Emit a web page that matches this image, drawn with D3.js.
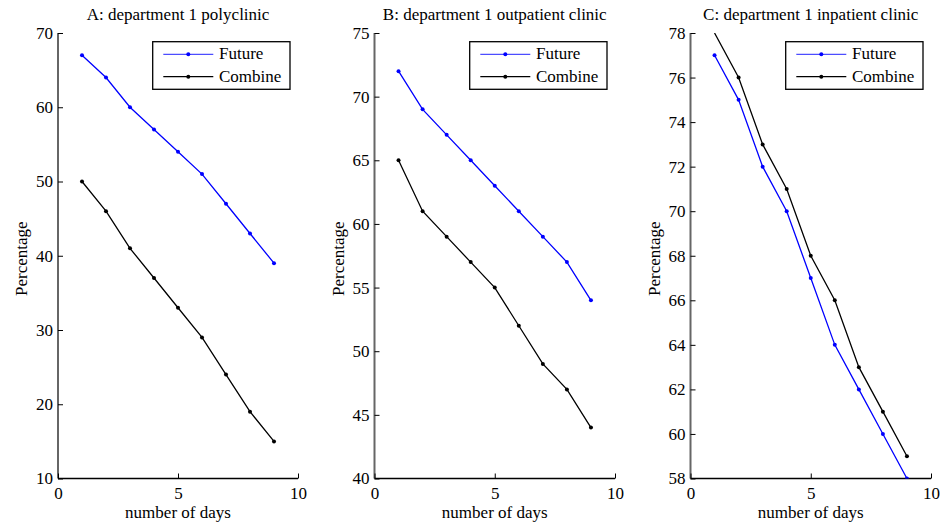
<!DOCTYPE html>
<html><head><meta charset="utf-8">
<script src="https://cdn.jsdelivr.net/npm/d3@7"></script>
<style>body{margin:0;background:#fff}svg{display:block}</style>
</head><body>
<script>
const days = [1,2,3,4,5,6,7,8,9];
const titles = ["A: department 1 polyclinic","B: department 1 outpatient clinic","C: department 1 inpatient clinic"];
const futureA = [67,64,60,57,54,51,47,43,39];
const combineA = [50,46,41,37,33,29,24,19,15];
const futureB = [72,69,67,65,63,61,59,57,54];
const combineB = [65,61,59,57,55,52,49,47,44];
const futureC = [77,75,72,70,67,64,62,60,58];
const combineC = [78,76,73,71,68,66,63,61,59];
const yDomains = [[10,70],[40,75],[58,78]];
const yTicks = [[10,20,30,40,50,60,70],[40,45,50,55,60,65,70,75],[58,60,62,64,66,68,70,72,74,76,78]];
const xTicks = [0,5,10];
const seriesNames = ["Future","Combine"];
const colors = ["#0000ff","#000000"];

(function(){
const W=944,H=529;
const FONT="Liberation Serif";
const FS="17px";
const svg=d3.select("body").append("svg").attr("width",W).attr("height",H);
const panels=[
 {left:58,right:298,f:futureA,c:combineA},
 {left:374.5,right:615,f:futureB,c:combineB},
 {left:690.5,right:931,f:futureC,c:combineC}
];
const pTop=33,pBottom=478.5;
function txt(sel){return sel.style("font-family",FONT).style("font-size",FS).attr("fill","#000");}
panels.forEach((p,i)=>{
  const x=d3.scaleLinear().domain([0,10]).range([p.left,p.right]);
  const y=d3.scaleLinear().domain(yDomains[i]).range([pBottom,pTop]);
  const g=svg.append("g");
  const cid="clip"+i;
  svg.append("clipPath").attr("id",cid).append("rect").attr("x",p.left).attr("y",pTop).attr("width",p.right-p.left).attr("height",pBottom-pTop);
  const ya=g.append("g").attr("transform",`translate(${p.left},0)`).call(d3.axisLeft(y).tickValues(yTicks[i]).tickSize(-5).tickPadding(5).tickFormat(d3.format("d")));
  const xa=g.append("g").attr("transform",`translate(0,${pBottom})`).call(d3.axisBottom(x).tickValues(xTicks).tickSize(-5).tickPadding(8.5).tickFormat(d3.format("d")));
  [ya,xa].forEach(a=>{txt(a.selectAll("text"));a.selectAll("line").attr("stroke","#000");});
  ya.select(".domain").attr("stroke","#666").attr("stroke-width",2).attr("d",`M0,${pTop}V${pBottom}`);
  xa.select(".domain").attr("stroke","#000").attr("stroke-width",1.3).attr("d",`M${p.left},0H${p.right}`);
  txt(g.append("text").attr("x",(p.left+p.right)/2).attr("y",20).attr("text-anchor","middle")).text(titles[i]);
  txt(g.append("text").attr("x",(p.left+p.right)/2).attr("y",518).attr("text-anchor","middle")).text("number of days");
  txt(g.append("text").attr("transform",`translate(${p.left-31},${(pTop+pBottom)/2+3}) rotate(-90)`).attr("text-anchor","middle")).text("Percentage");
  [p.f,p.c].forEach((vals,k)=>{
    const data=days.map((d,j)=>[d,vals[j]]);
    const sg=g.append("g").attr("clip-path",`url(#${cid})`);
    sg.append("path").datum(data).attr("fill","none").attr("stroke",colors[k]).attr("stroke-width",1.3)
      .attr("d",d3.line().x(d=>x(d[0])).y(d=>y(d[1])));
    sg.selectAll("circle").data(data.filter(d=>d[1]<yDomains[i][1])).join("circle").attr("cx",d=>x(d[0])).attr("cy",d=>y(d[1])).attr("r",2).attr("fill",colors[k]);
  });
  const lx=p.right-145.3,ly=41.7,lw=137.3,lh=47.6;
  const lg=g.append("g");
  lg.append("rect").attr("x",lx).attr("y",ly).attr("width",lw).attr("height",lh).attr("fill","#fff").attr("stroke","#000").attr("stroke-width",1.3);
  seriesNames.forEach((n,k)=>{
    const yy=ly+12.6+k*22.4;
    lg.append("line").attr("x1",lx+10.6).attr("x2",lx+60.6).attr("y1",yy).attr("y2",yy).attr("stroke",k===0?"#4d4dff":"#000").attr("stroke-width",1.2);
    lg.append("circle").attr("cx",lx+35.6).attr("cy",yy).attr("r",2).attr("fill",colors[k]);
    txt(lg.append("text").attr("x",lx+66.3).attr("y",yy+5)).text(n);
  });
});
})();
</script>
</body></html>
